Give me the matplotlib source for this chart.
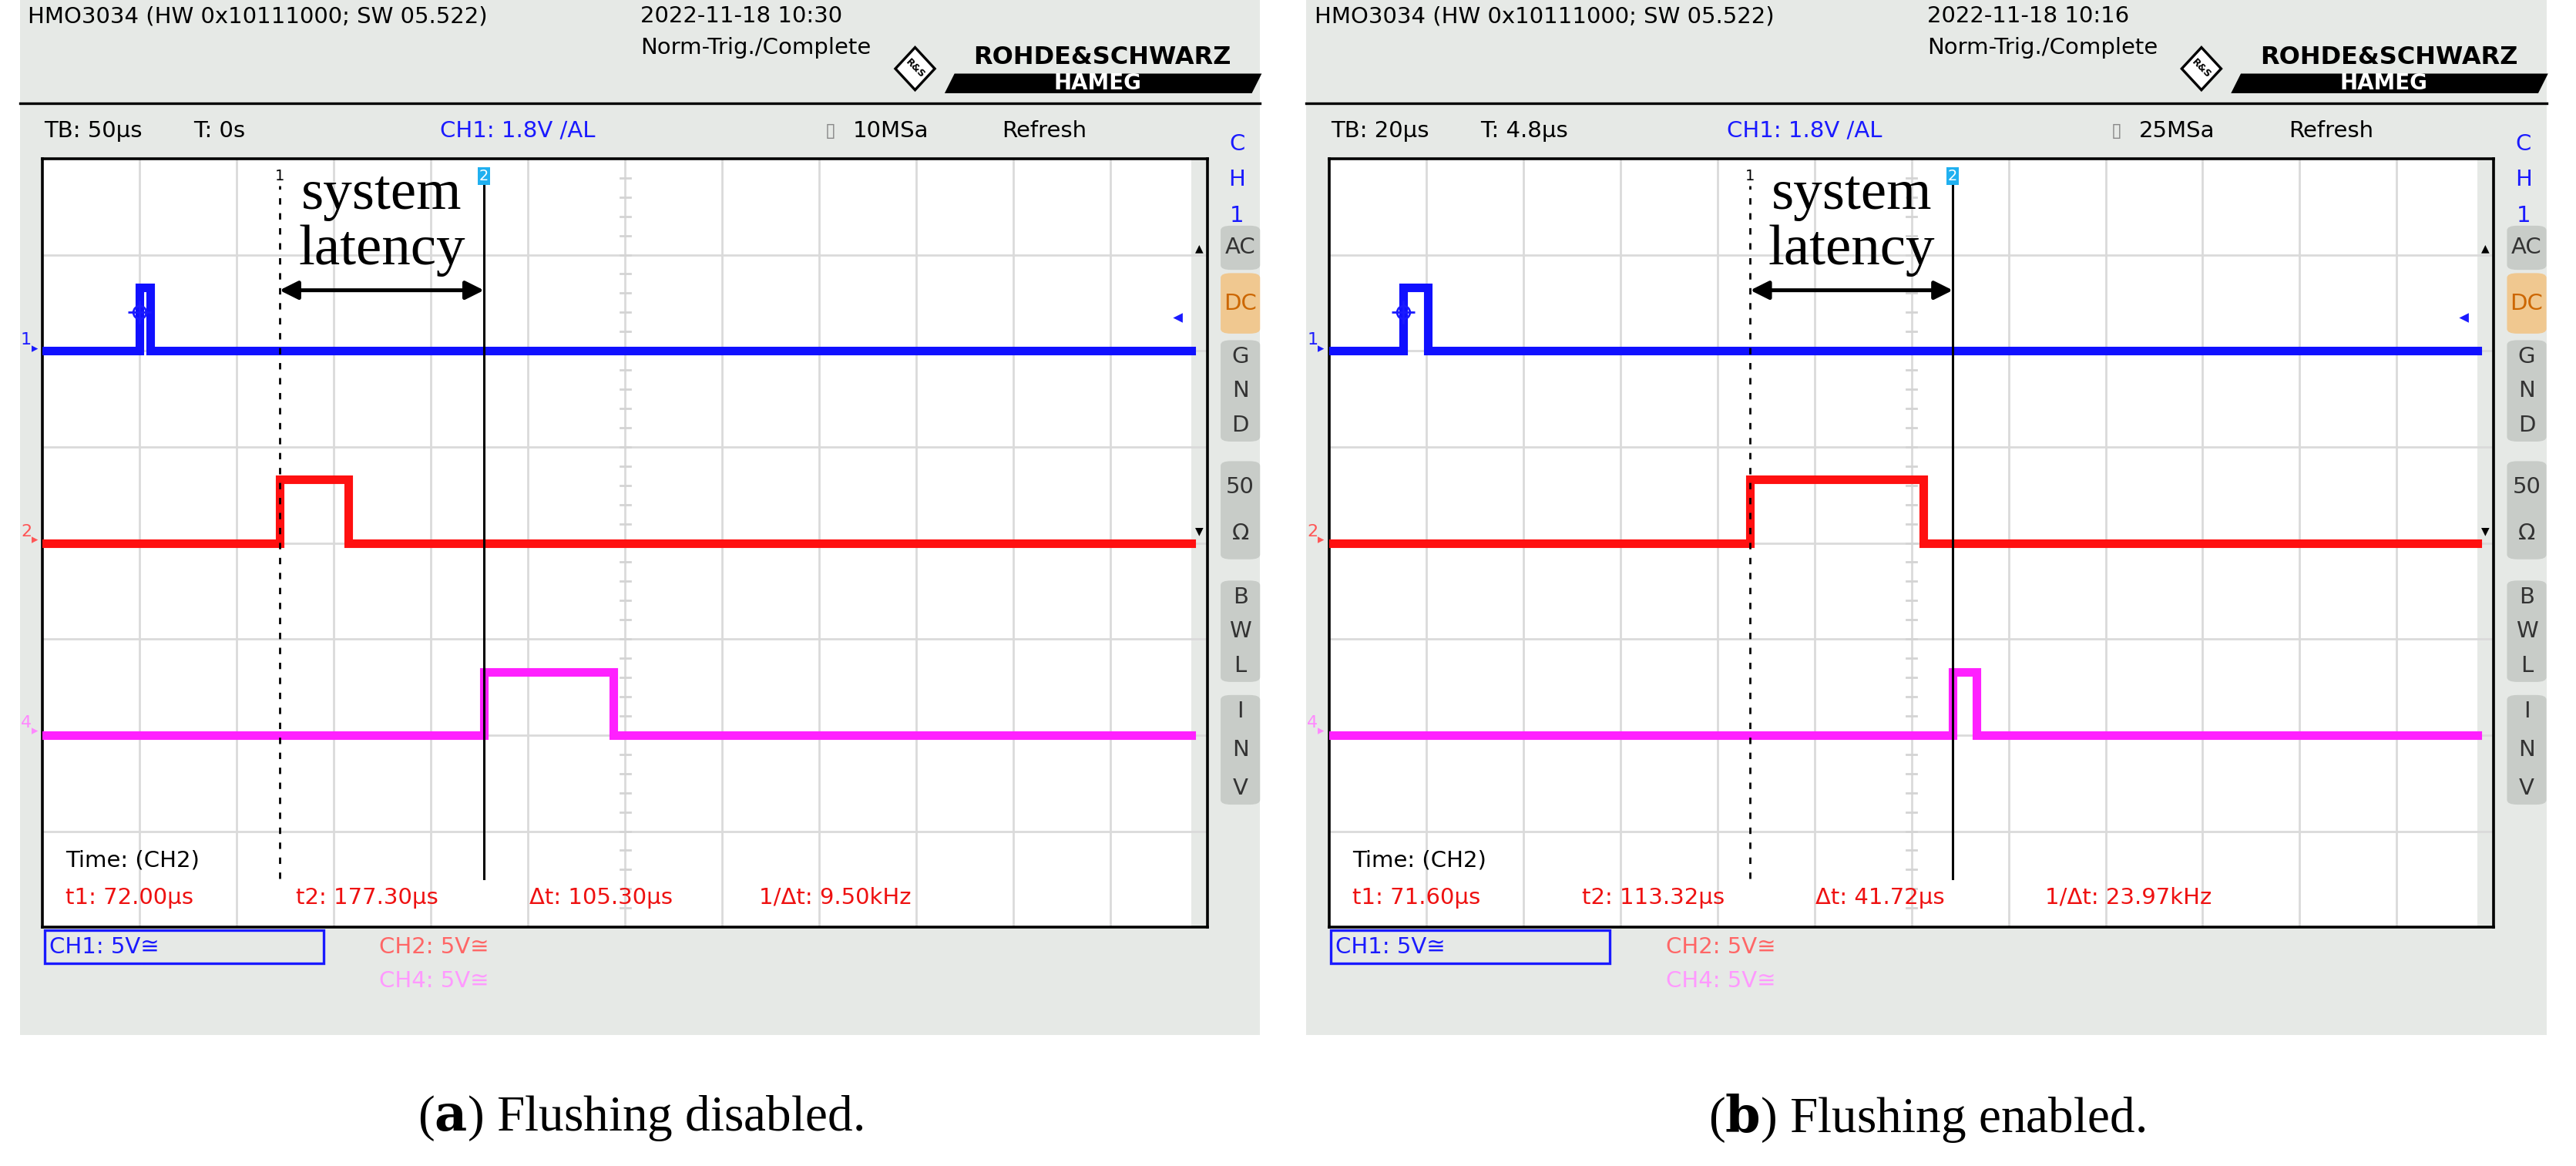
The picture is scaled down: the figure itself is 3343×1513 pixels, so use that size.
import matplotlib
matplotlib.use("Agg")
import matplotlib.pyplot as plt
from matplotlib.patches import Rectangle, FancyBboxPatch, Polygon
import numpy as np

W, H = 1568.0, 713.0
DX = 783  # horizontal offset of panel b (in reference display pixels)

# ---------------- data ----------------
panels = ["a", "b"]
captions = {"a": "Flushing disabled.", "b": "Flushing enabled."}
timestamps = {"a": "2022-11-18 10:30", "b": "2022-11-18 10:16"}
timebase_us = {"a": 50, "b": 20}
tb_labels = {"a": "TB: 50\u00b5s", "b": "TB: 20\u00b5s"}
trig_labels = {"a": "T: 0s", "b": "T: 4.8\u00b5s"}
sample_rates = {"a": "10MSa", "b": "25MSa"}
left_time_us = {"a": -50.0, "b": -15.2}
ch1_pulse = {"a": (0.0, 5.5), "b": (0.0, 5.2)}
ch2_pulse = {"a": (72.00, 107.6), "b": (71.60, 107.3)}
ch4_pulse = {"a": (177.30, 244.0), "b": (113.32, 118.2)}
t1_vals = {"a": 72.00, "b": 71.60}
t2_vals = {"a": 177.30, "b": 113.32}
meas = {"a": ["t1: 72.00\u00b5s", "t2: 177.30\u00b5s", "\u0394t: 105.30\u00b5s", "1/\u0394t: 9.50kHz"],
        "b": ["t1: 71.60\u00b5s", "t2: 113.32\u00b5s", "\u0394t: 41.72\u00b5s", "1/\u0394t: 23.97kHz"]}
base_levels = [6.0, 4.0, 2.0]   # divisions (ch1, ch2, ch4)
high_div = 0.66
colors = ["#1010ff", "#ff1010", "#ff20ff"]

SANS = "DejaVu Sans"
SERIF = "Liberation Serif"

fig = plt.figure(figsize=(3343 / 200, 1513 / 200), dpi=200)
fig.patch.set_facecolor("white")


def fx(x):
    return x / W


def fy(y):
    return 1 - y / H


def T(x, y, s, **kw):
    kw.setdefault("family", SANS)
    kw.setdefault("fontsize", 10.5)
    kw.setdefault("va", "center")
    kw.setdefault("zorder", 5)
    fig.text(fx(x), fy(y), s, **kw)


def step(t0, t1, base, left, right):
    xs = [left, t0, t0, t1, t1, right]
    ys = [base, base, base + high_div, base + high_div, base, base]
    return xs, ys


for i, p in enumerate(panels):
    o = DX * i
    # background
    fig.patches.append(Rectangle((fx(12 + o), fy(633)), fx(755), 633 / H, transform=fig.transFigure,
                                 facecolor="#e6e9e6", edgecolor="none", zorder=-5))
    fig.lines.append(plt.Line2D([fx(12 + o), fx(767 + o)], [fy(63), fy(63)], transform=fig.transFigure,
                                color="black", lw=1.2))
    # header
    T(17 + o, 10, "HMO3034 (HW 0x10111000; SW 05.522)")
    T(390 + o, 10, timestamps[p])
    T(390 + o, 29, "Norm-Trig./Complete")
    # logo
    cx, cy = 557 + o, 42
    fig.patches.append(Polygon([(fx(cx - 12), fy(cy)), (fx(cx), fy(cy - 13)), (fx(cx + 12), fy(cy)), (fx(cx), fy(cy + 13))],
                               closed=True, transform=fig.transFigure, facecolor="white", edgecolor="black", lw=1.2))
    T(cx, cy, "R&S", fontsize=4.5, ha="center", weight="bold", rotation=-45)
    T(671 + o, 35, "ROHDE&SCHWARZ", fontsize=11.5, weight="bold", ha="center")
    fig.patches.append(Polygon([(fx(575 + o), fy(57)), (fx(762 + o), fy(57)), (fx(768 + o), fy(45)), (fx(581 + o), fy(45))],
                               closed=True, transform=fig.transFigure, facecolor="black", edgecolor="none"))
    T(668 + o, 51, "HAMEG", fontsize=10, weight="bold", color="white", ha="center")
    # status row
    T(27 + o, 80, tb_labels[p])
    T(118 + o, 80, trig_labels[p])
    T(268 + o, 80, "CH1: 1.8V \u2215AL", color="#1a1aff")
    T(502 + o, 80, "\u25af", color="#888888", fontsize=9)
    T(519 + o, 80, sample_rates[p])
    T(610 + o, 80, "Refresh")
    for k, ch in enumerate("CH1"):
        T(753 + o, 88 + 22 * k, ch, color="#1a1aff", ha="center")

    # side buttons
    buttons = [("AC", 138, 165, "#c8ccc8", "#333333"), ("DC", 167, 204, "#f0c890", "#cc6600"),
               ("GND", 208, 270, "#c8ccc8", "#333333"), ("50\u03a9", 282, 342, "#c8ccc8", "#333333"),
               ("BWL", 355, 417, "#c8ccc8", "#333333"), ("INV", 425, 492, "#c8ccc8", "#333333")]
    for lab, y0, y1, fc, tc in buttons:
        fig.patches.append(FancyBboxPatch((fx(743 + o), fy(y1)), fx(24), (y1 - y0) / H,
                                          boxstyle="round,pad=0,rounding_size=0.004", transform=fig.transFigure,
                                          facecolor=fc, edgecolor="none"))
        if lab in ("GND", "BWL", "INV"):
            for k, ch in enumerate(lab):
                T(755 + o, y0 + 10 + 22 * k * (y1 - y0 - 20) / 44, ch, color=tc, ha="center")
        elif lab == "50\u03a9":
            T(755 + o, y0 + 16, "50", color=tc, ha="center")
            T(755 + o, y0 + 44, "\u03a9", color=tc, ha="center")
        else:
            T(755 + o, (y0 + y1) / 2, lab, color=tc, ha="center")

    # plot axes
    ax = fig.add_axes([fx(26 + o), fy(567), fx(709), 470 / H])
    ax.set_zorder(3)
    div = timebase_us[p]
    L = left_time_us[p]
    R = L + 12 * div
    ax.set_xlim(L, R)
    ax.set_ylim(0, 8)
    ax.set_facecolor("white")
    for s in ax.spines.values():
        s.set_color("black")
        s.set_linewidth(1.3)
    ax.set_xticks([L + k * div for k in range(1, 12)])
    ax.set_yticks(range(1, 8))
    ax.grid(True, color="#dadada", lw=1.0)
    ax.tick_params(length=0, labelbottom=False, labelleft=False)
    cxm = L + 6 * div
    for k in range(1, 40):
        yv = k * 0.2
        ax.plot([cxm - div * 0.05, cxm + div * 0.05], [yv, yv], color="#d4d4d4", lw=1.0)
    ax.add_patch(Rectangle((1 - 10 / 709, 0), 10 / 709, 1, transform=ax.transAxes,
                           facecolor="#e6e9e6", edgecolor="none", zorder=1))
    ax.text(1 - 5 / 709, 0.883, "\u25b2", transform=ax.transAxes, ha="center", va="center", fontsize=5)
    ax.text(1 - 5 / 709, 0.515, "\u25bc", transform=ax.transAxes, ha="center", va="center", fontsize=5)

    pulses = [ch1_pulse[p], ch2_pulse[p], ch4_pulse[p]]
    for base, (a0, a1), c in zip(base_levels, pulses, colors):
        xs, ys = step(a0, a1, base, L, R - div * 10 / 59)
        ax.plot(xs, ys, color=c, lw=4.0, solid_joinstyle="miter", zorder=3)
        ax.plot(xs, ys, color=c, lw=1.2, zorder=3)
    # trigger marker
    ax.plot([0], [6.4], marker="o", ms=6, mfc="none", mec="#1a1aff", mew=1.0, zorder=4)
    ax.plot([0], [6.4], marker="+", ms=11, mec="#1a1aff", mew=1.0, zorder=4)
    ax.plot([R - div * 18 / 59], [6.35], marker="<", ms=3, color="#1a1aff", zorder=4)

    # cursors
    t1, t2 = t1_vals[p], t2_vals[p]
    ax.plot([t1, t1], [0.51, 7.72], color="black", lw=1.0, ls=(0, (3, 4)), zorder=5)
    ax.plot([t2, t2], [0.51, 7.72], color="black", lw=1.1, zorder=5)
    ax.text(t1, 7.82, "1", ha="center", va="center", fontsize=7, family=SANS)
    ax.text(t2, 7.82, "2", ha="center", va="center", fontsize=7, family=SANS, color="white",
            bbox=dict(boxstyle="square,pad=0.1", fc="#20b0f0", ec="none"))
    ax.annotate("", xy=(t1, 6.63), xytext=(t2, 6.63),
                arrowprops=dict(arrowstyle="<|-|>", color="black", lw=1.8, mutation_scale=18, shrinkA=0, shrinkB=0),
                zorder=6)
    mid = (t1 + t2) / 2
    ax.text(mid, 7.62, "system", ha="center", va="center", fontsize=27, family=SERIF, zorder=6)
    ax.text(mid, 7.04, "latency", ha="center", va="center", fontsize=27, family=SERIF, zorder=6)

    # measurements
    ax.text(14 / 709, 41 / 470, "Time: (CH2)", transform=ax.transAxes, fontsize=10.5, family=SANS, va="center")
    for txt, xx in zip(meas[p], [14, 154, 296, 436]):
        ax.text(xx / 709, 18 / 470, txt, transform=ax.transAxes, fontsize=10.5, family=SANS, va="center",
                color="#ee1111")

    # channel labels left
    for lab, yy, c in [("1", 208, "#1a1aff"), ("2", 325, "#ff5555"), ("4", 442, "#ff88ff")]:
        T(16 + o, yy, lab, color=c, fontsize=8, ha="center")
        T(21 + o, yy + 5, "\u25b8", color=c, fontsize=6, ha="center")

    # bottom channel info
    fig.patches.append(Rectangle((fx(27 + o), fy(589)), fx(170), 20 / H, transform=fig.transFigure,
                                 facecolor="none", edgecolor="#1a1aff", lw=1.2))
    T(30 + o, 579, "CH1: 5V\u2245", color="#1a1aff")
    T(231 + o, 579, "CH2: 5V\u2245", color="#ff6666")
    T(231 + o, 600, "CH4: 5V\u2245", color="#ff99ff")

    # caption
    fig.text(fx(390 + o), fy(684), r"($\mathbf{" + p + r"}$) " + captions[p], ha="center", va="center",
             fontsize=23.5, family=SERIF, math_fontfamily="dejavuserif")

fig.savefig("out.png", dpi=200, facecolor="white")
